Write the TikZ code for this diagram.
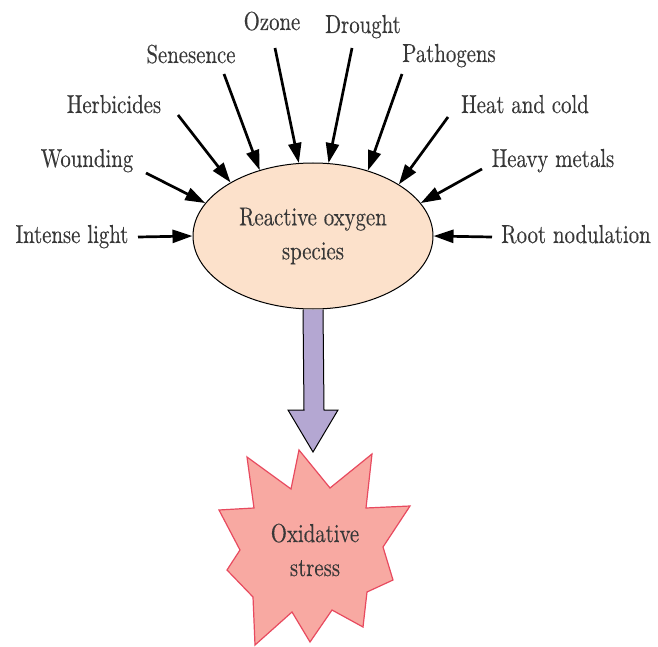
\documentclass[tikz,border=0pt]{standalone}
\usepackage{fontspec}
\setmainfont{lmroman10-regular.otf}[FakeBold=0.25,FakeStretch=0.8]
\usetikzlibrary{shapes.geometric,arrows.meta,calc}
\definecolor{rosfill}{HTML}{FCE1CB}
\definecolor{bigarrow}{HTML}{B4A7D2}
\definecolor{starfill}{HTML}{F8A9A2}
\definecolor{starline}{HTML}{E84A5F}
\definecolor{txt}{HTML}{383838}
\begin{document}
\begin{tikzpicture}[x=1pt,y=-1pt,
  lbl/.style={font=\fontsize{26}{34}\selectfont, text=txt, inner sep=0pt, anchor=base},
  cause/.style={line width=2.7pt, draw=black, -{Triangle[length=20pt,width=13pt]}}]
\useasboundingbox[fill=white] (0,0) rectangle (658,647);

% central ellipse
\node[ellipse, draw=black, line width=1pt, fill=rosfill, minimum width=240pt,
      minimum height=146pt, inner sep=0pt, align=center, text=txt,
      font=\fontsize{26}{34}\selectfont] (ros) at (313,236) {Reactive oxygen\\species};

% labels
\node[lbl] (ozone)  at (272,30)  {Ozone};
\node[lbl] (drought) at (363,33) {Drought};
\node[lbl] (senes)  at (191,63)  {Senesence};
\node[lbl] (patho)  at (449,62)  {Pathogens};
\node[lbl] (herbi)  at (114,113) {Herbicides};
\node[lbl] (heat)   at (525,113) {Heat and cold};
\node[lbl] (wound)  at (87,167)  {Wounding};
\node[lbl] (heavy)  at (553,167) {Heavy metals};
\node[lbl] (intense) at (72,243) {Intense light};
\node[lbl] (root)   at (576,243) {Root nodulation};

% arrow start points
\coordinate (sIntense) at (138,237);
\coordinate (sWound)   at (146,173);
\coordinate (sHerbi)   at (178,115);
\coordinate (sSenes)   at (224,74);
\coordinate (sOzone)   at (275,48);
\coordinate (sDrought) at (352,48);
\coordinate (sPatho)   at (402,74);
\coordinate (sHeat)    at (448,117);
\coordinate (sHeavy)   at (482,169);
\coordinate (sRoot)    at (492,237);

\draw[cause] (sIntense) -- (ros.180);
\draw[cause] (sWound)   -- (ros.163);
\draw[cause] (sHerbi)   -- (ros.147);
\draw[cause] (sSenes)   -- (ros.129);
\draw[cause] (sOzone)   -- (ros.101);
\draw[cause] (sDrought) -- (ros.78);
\draw[cause] (sPatho)   -- (ros.50);
\draw[cause] (sHeat)    -- (ros.31);
\draw[cause] (sHeavy)   -- (ros.17);
\draw[cause] (sRoot)    -- (ros.0);

% starburst
\draw[fill=starfill, draw=starline, line width=1.2pt, line join=miter]
  (299,450) -- (330,488) -- (372,454) -- (366,508) -- (410,506) -- (383,547)
  -- (393,580) -- (367,592) -- (363,627) -- (332,610) -- (310,642) -- (292,612)
  -- (255,645) -- (253,597) -- (227,570) -- (240,550) -- (219,510) -- (254,508)
  -- (247,457) -- (291,489) -- cycle;
\node[align=center, text=txt, inner sep=0pt, font=\fontsize{26}{34}\selectfont]
  (ox) at (315,550) {Oxidative\\stress};

% big block arrow
\draw[fill=bigarrow, draw=black, line width=1pt, line join=miter]
  ($(ros.south)+(-10,0)$) -- (304,410) -- (288,410) -- (313,452) -- (338,410)
  -- (324,410) -- ($(ros.south)+(10,0)$);
\end{tikzpicture}
\end{document}
